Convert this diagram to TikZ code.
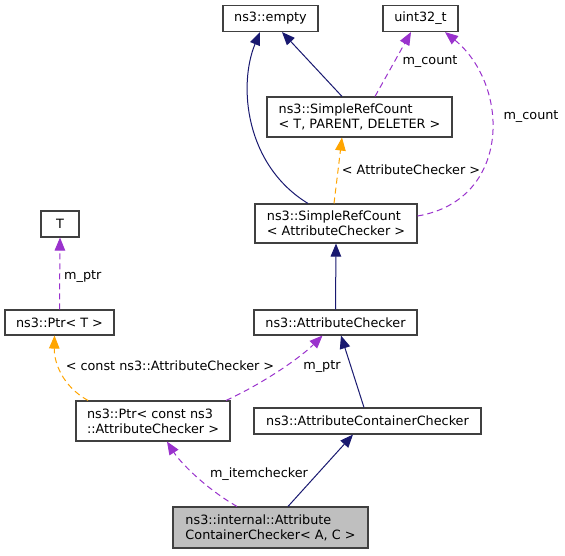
\documentclass[tikz,border=0pt]{standalone}
\usepackage{fontspec}
\setmainfont{DejaVu Sans}
\usetikzlibrary{arrows.meta}
\definecolor{navyc}{HTML}{191970}
\definecolor{purp}{HTML}{9A32CD}
\definecolor{orng}{HTML}{FFA500}
\definecolor{boxgray}{HTML}{BFBFBF}
\definecolor{bord}{HTML}{404040}
\tikzset{
  cls/.style={draw=bord, line width=1.1pt, fill=white, inner sep=0pt, align=left, font=\fontsize{12.8}{15}\selectfont},
  lbl/.style={inner sep=0pt, font=\fontsize{12.8}{15}\selectfont},
  inh/.style={draw=navyc, line width=1pt, -{Triangle[length=13pt,width=10.5pt]}},
  use/.style={draw=purp, line width=1pt, dash pattern=on 6pt off 4pt, -{Triangle[length=13pt,width=10.5pt]}},
  tmpl/.style={draw=orng, line width=1pt, dash pattern=on 6pt off 4pt, -{Triangle[length=13pt,width=10.5pt]}},
}
\begin{document}
\begin{tikzpicture}[x=1pt,y=-1pt]
\useasboundingbox[fill=white] (0,0) rectangle (565,555);
\node[cls, minimum width=95pt, minimum height=26pt] (empty) at (270.5,18.5) {ns3::empty};
\node[cls, minimum width=75pt, minimum height=26pt] (uint) at (420.5,18.5) {uint32\_t};
\node[cls, minimum width=185pt, minimum height=40pt] (srcT) at (359.5,117) {ns3::SimpleRefCount\\< T, PARENT, DELETER >};
\node[cls, minimum width=162pt, minimum height=39pt] (srcAC) at (336,223.5) {ns3::SimpleRefCount\\< AttributeChecker >};
\node[cls, minimum width=38pt, minimum height=26pt] (T) at (60,224) {T};
\node[cls, minimum width=109pt, minimum height=25pt] (PtrT) at (59.5,322.5) {ns3::Ptr< T >};
\node[cls, minimum width=154pt, minimum height=40pt] (PtrC) at (153,421) {ns3::Ptr< const ns3\\::AttributeChecker >};
\node[cls, minimum width=163pt, minimum height=25pt] (AC) at (335.5,322.5) {ns3::AttributeChecker};
\node[cls, minimum width=227pt, minimum height=26pt] (ACC) at (367.5,421) {ns3::AttributeContainerChecker};
\node[cls, fill=boxgray, minimum width=195pt, minimum height=41pt] (int) at (270.5,527.5) {ns3::internal::Attribute\\ContainerChecker< A, C >};

% inheritance
\draw[inh] ([xshift=-28pt]srcAC.north) .. controls (245,165) and (238,85) .. ([xshift=-10.5pt]empty.south);
\draw[inh] ([xshift=-17.5pt]srcT.north) -- ([xshift=11.5pt]empty.south);
\draw[inh] (AC.north) -- (srcAC.south);
\draw[inh] ([xshift=-3.5pt]ACC.north) -- ([xshift=5.5pt]AC.south);
\draw[inh] ([xshift=17.5pt]int.north) -- ([xshift=-14.5pt]ACC.south);

% usage
\draw[use] ([xshift=15.5pt]srcT.north) -- ([xshift=-9.5pt]uint.south);
\node[lbl] (l1) at (430,62) {m\_count};
\draw[use] ([yshift=7.5pt]srcAC.east) .. controls (512,200) and (510,85) .. ([xshift=24.5pt]uint.south);
\node[lbl] (l2) at (531,117) {m\_count};
\draw[use] (PtrT.north) -- (T.south);
\node[lbl, anchor=west] (l3) at (64,277) {m\_ptr};
\draw[use] ([xshift=73pt]PtrC.north) .. controls (262,384) and (300,358) .. ([xshift=-13pt]AC.south);
\node[lbl] (l4) at (322,367) {m\_ptr};
\draw[use] ([xshift=-33.5pt]int.north) .. controls (205,488) and (180,462) .. ([xshift=14pt]PtrC.south);
\node[lbl] (l5) at (259,474) {m\_itemchecker};

% template
\draw[tmpl] ([xshift=-2pt]srcAC.north) -- ([xshift=-17.5pt]srcT.south);
\node[lbl] (l6) at (411,170) {< AttributeChecker >};
\draw[tmpl] ([xshift=-65pt]PtrC.north) .. controls (62,386) and (54,362) .. ([xshift=-5pt]PtrT.south);
\node[lbl] (l7) at (170,366) {< const ns3::AttributeChecker >};
\end{tikzpicture}
\end{document}
